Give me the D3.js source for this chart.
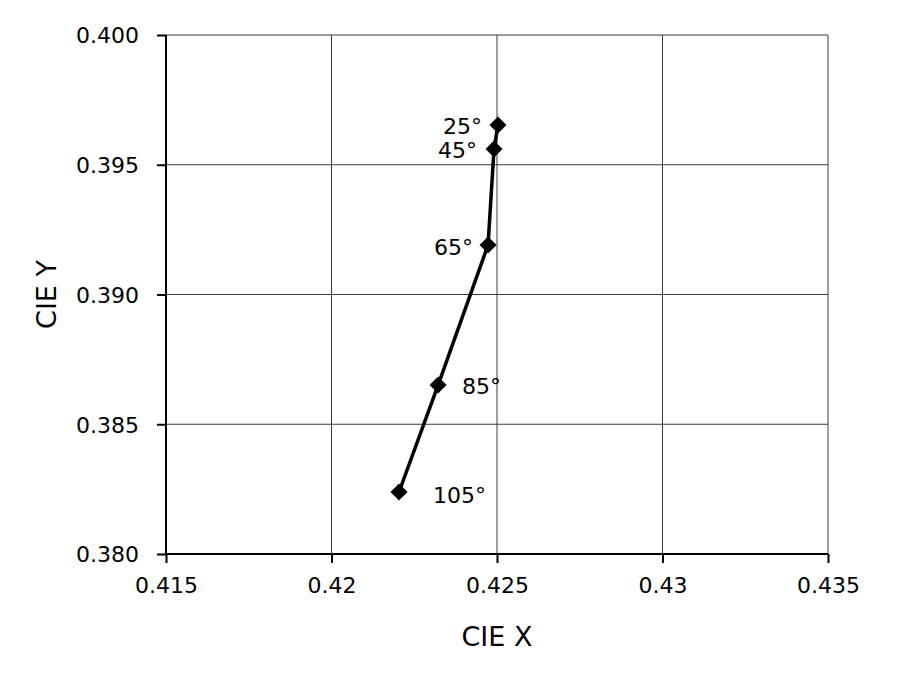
<!DOCTYPE html>
<html><head><meta charset="utf-8">
<script src="https://cdn.jsdelivr.net/npm/d3@7"></script>
<style>body{margin:0;background:#fff;} text{font-family:"DejaVu Sans",sans-serif;fill:#000;}</style>
</head><body>
<svg id="c" width="900" height="677"></svg>
<script>
const angles = ["25°","45°","65°","85°","105°"];
const cieX = [0.42503, 0.42491, 0.42473, 0.42322, 0.42204];
const cieY = [0.39653, 0.39561, 0.39191, 0.38651, 0.38239];
const xTicks = [0.415, 0.42, 0.425, 0.43, 0.435];
const xTickLabels = ["0.415","0.42","0.425","0.43","0.435"];
const yTicks = [0.380, 0.385, 0.390, 0.395, 0.400];
const yTickLabels = ["0.380","0.385","0.390","0.395","0.400"];
// label offsets (dx, dy, anchor)
const labelPos = [[-16,1,"end"],[-17,1,"end"],[-15,2,"end"],[24,1,"start"],[34,3,"start"]];

const svg = d3.select("#c");
const L=166, R=828, T=35, B=554;
const x = d3.scaleLinear().domain([0.415,0.435]).range([L,R]);
const y = d3.scaleLinear().domain([0.380,0.400]).range([B,T]);

// gridlines
svg.append("g").selectAll("line").data(xTicks.slice(1)).join("line")
  .attr("x1",d=>x(d)).attr("x2",d=>x(d)).attr("y1",T).attr("y2",B)
  .attr("stroke","#3a3a3a").attr("stroke-width",1);
svg.append("g").selectAll("line").data(yTicks.slice(1)).join("line")
  .attr("x1",L).attr("x2",R).attr("y1",d=>y(d)).attr("y2",d=>y(d))
  .attr("stroke","#3a3a3a").attr("stroke-width",1);

const xAxis = d3.axisBottom(x).tickValues(xTicks).tickFormat((d,i)=>xTickLabels[i]).tickSize(9).tickPadding(14);
const yAxis = d3.axisLeft(y).tickValues(yTicks).tickFormat((d,i)=>yTickLabels[i]).tickSize(9).tickPadding(18);
const gx = svg.append("g").attr("transform",`translate(0,${B})`).call(xAxis);
const gy = svg.append("g").attr("transform",`translate(${L},0)`).call(yAxis);
[gx,gy].forEach(g=>{
  g.select(".domain").attr("stroke","#000").attr("stroke-width",2);
  g.selectAll(".tick line").attr("stroke","#000").attr("stroke-width",2);
  g.selectAll(".tick text").style("font-size","22px").attr("fill","#000");
});
gx.select(".domain").attr("d",`M${L},0H${R}`);
gy.select(".domain").attr("d",`M0,${B}V${T}`);
gy.selectAll(".tick text").attr("dy","0.36em");

// axis titles
svg.append("text").attr("x",(L+R)/2).attr("y",646).attr("text-anchor","middle").style("font-size","27px").text("CIE X");
svg.append("text").attr("transform",`translate(56,${(T+B)/2}) rotate(-90)`).attr("text-anchor","middle").style("font-size","27px").text("CIE Y");

const pts = angles.map((a,i)=>({a, x:cieX[i], y:cieY[i], off:labelPos[i]}));
svg.append("path").datum(pts)
  .attr("d", d3.line().x(d=>x(d.x)).y(d=>y(d.y)))
  .attr("fill","none").attr("stroke","#000").attr("stroke-width",3.5);
svg.append("g").selectAll("path").data(pts).join("path")
  .attr("d", d3.symbol(d3.symbolDiamond2, 185))
  .attr("transform", d=>`translate(${x(d.x)},${y(d.y)})`).attr("fill","#000");
svg.append("g").selectAll("text").data(pts).join("text")
  .attr("x", d=>x(d.x)+d.off[0]).attr("y", d=>y(d.y)+d.off[1]).attr("dy","0.36em")
  .attr("text-anchor", d=>d.off[2]).style("font-size","22px").text(d=>d.a);
</script>
</body></html>
